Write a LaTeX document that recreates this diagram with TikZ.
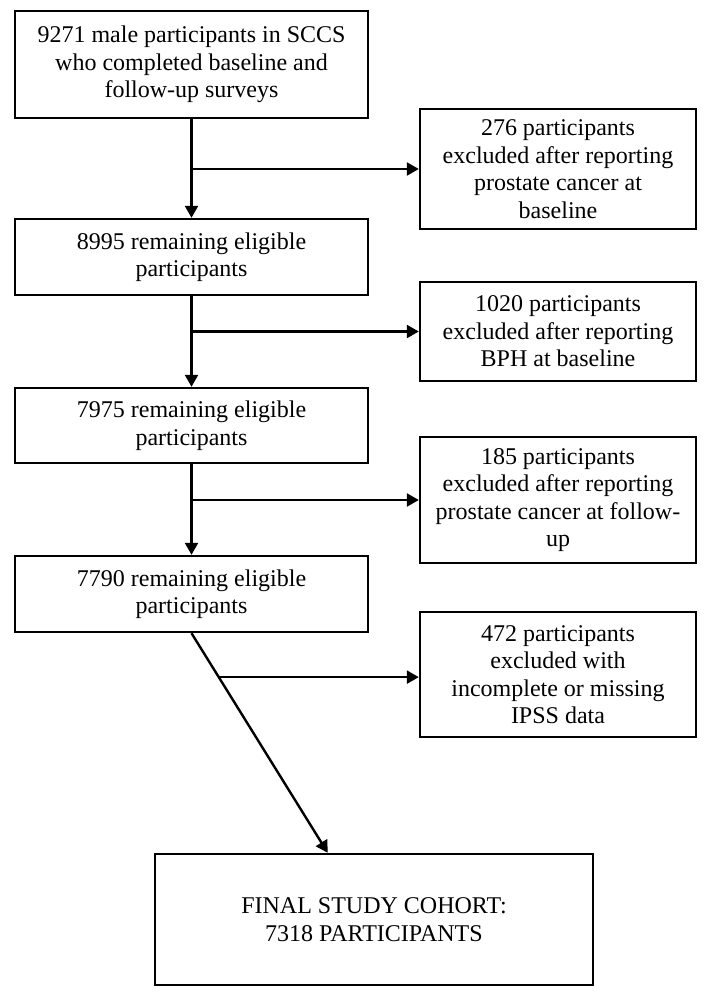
\documentclass[tikz,border=0pt]{standalone}
\usepackage{fontspec}
\setmainfont{Liberation Serif}
\usepackage{tikz}
\usetikzlibrary{arrows.meta,calc,positioning}

\begin{document}
\begin{tikzpicture}[x=1pt,y=-1pt,
  box/.style={draw, line width=2.4pt, align=center, inner sep=0pt,
    font=\fontsize{24}{27.5}\selectfont},
  flow/.style={-{Triangle[length=12pt,width=13pt]}, line width=2.4pt}]
\useasboundingbox (0,0) rectangle (706,999);
\node [box, minimum width=353, minimum height=107] (step1) at (191.5,64.5) {9271 male participants in SCCS\\who completed baseline and\\follow-up surveys};
\node [box, minimum width=353, minimum height=76] (step2) at (191.5,257) {8995 remaining eligible\\participants};
\node [box, minimum width=353, minimum height=75] (step3) at (191.5,425.5) {7975 remaining eligible\\participants};
\node [box, minimum width=353, minimum height=76] (step4) at (191.5,594) {7790 remaining eligible\\participants};
\node [box, minimum width=276, minimum height=120] (excl1) at (558,169) {276 participants\\excluded after reporting\\prostate cancer at\\baseline};
\node [box, minimum width=276, minimum height=99] (excl2) at (558,331.5) {1020 participants\\excluded after reporting\\BPH at baseline};
\node [box, minimum width=276, minimum height=126] (excl3) at (558,500) {185 participants\\excluded after reporting\\prostate cancer at follow-\\up};
\node [box, minimum width=276, minimum height=125] (excl4) at (558,674.5) {472 participants\\excluded with\\incomplete or missing\\IPSS data};
\node [box, minimum width=438, minimum height=131] (final) at (374,919.5) {FINAL STUDY COHORT:\\7318 PARTICIPANTS};
\draw[flow] (step1) -- (step2);
\draw[flow] (step1.south |- excl1.west) -- (excl1.west);
\draw[flow] (step2) -- (step3);
\draw[flow] (step2.south |- excl2.west) -- (excl2.west);
\draw[flow] (step3) -- (step4);
\draw[flow] (step3.south |- excl3.west) -- (excl3.west);
\coordinate (tip) at ($(final.north west)!0.395!(final.north east)$);
\draw[flow] (step4.south) -- (tip) coordinate[pos=0.2] (split);
\draw[flow] (split) -- (excl4.west |- split);
\end{tikzpicture}
\end{document}
